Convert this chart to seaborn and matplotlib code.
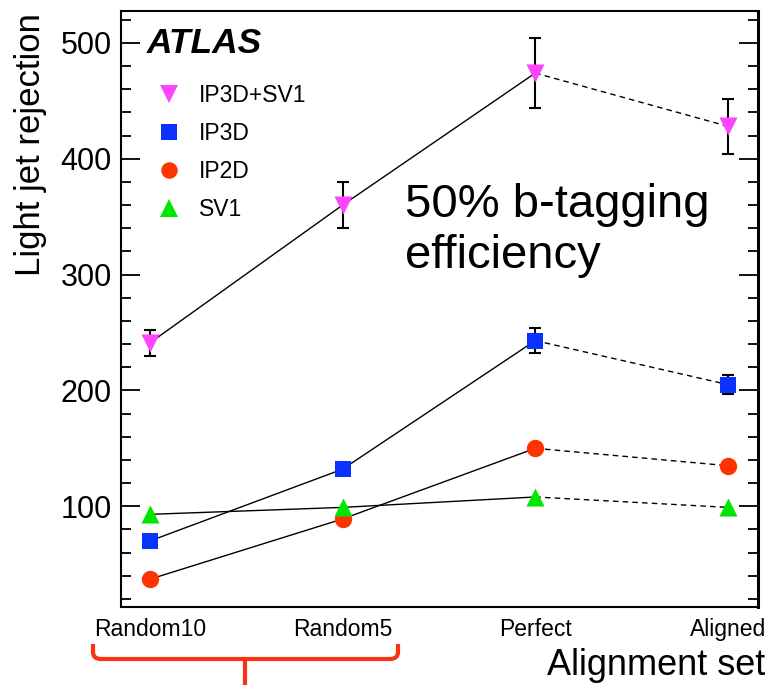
import numpy as np
import pandas as pd
import matplotlib
matplotlib.use("Agg")
import matplotlib.pyplot as plt
from matplotlib.lines import Line2D
from matplotlib.path import Path
from matplotlib.patches import PathPatch
from matplotlib.ticker import MultipleLocator
import seaborn as sns

# Alignment sets on the x axis
alignment_sets = ["Random10", "Random5", "Perfect", "Aligned"]

# Light jet rejection at 50% b-tagging efficiency, per tagger
ip3d_sv1 = [241, 360, 474, 428]
ip3d_sv1_err = [11, 20, 30, 24]
ip3d = [70, 132, 243, 205]
ip3d_err = [0, 0, 11, 8]
ip2d = [37, 89, 150, 135]
sv1 = [93, 99, 108, 99]

taggers = ["IP3D+SV1", "IP3D", "IP2D", "SV1"]
values = {"IP3D+SV1": ip3d_sv1, "IP3D": ip3d, "IP2D": ip2d, "SV1": sv1}
errors = {"IP3D+SV1": ip3d_sv1_err, "IP3D": ip3d_err}
colors = {"IP3D+SV1": "#ff44ff", "IP3D": "#0a32ff", "IP2D": "#ff3300", "SV1": "#00e600"}
markers = {"IP3D+SV1": "v", "IP3D": "s", "IP2D": "o", "SV1": "^"}
msizes = {"IP3D+SV1": 13, "IP3D": 11.5, "IP2D": 12.5, "SV1": 13}

rows = []
for t in taggers:
    for i, s in enumerate(alignment_sets):
        rows.append({"tagger": t, "pos": i, "set": s, "value": values[t][i]})
df = pd.DataFrame(rows)

sns.set_theme(style="ticks")
plt.rcParams["font.family"] = ["Liberation Sans", "DejaVu Sans"]
plt.rcParams["text.color"] = "black"
plt.rcParams["axes.labelcolor"] = "black"
plt.rcParams["xtick.color"] = "black"
plt.rcParams["ytick.color"] = "black"

fig = plt.figure(figsize=(7.7, 6.85), dpi=100)
ax = fig.add_axes([121 / 770, 1 - 607 / 685, 637 / 770, 596.5 / 685])

# Connecting lines: solid through the misaligned sets, dashed to the aligned one
solid = df[df["pos"] <= 2]
dashed = df[df["pos"] >= 2]
sns.lineplot(data=solid, x="pos", y="value", units="tagger", estimator=None,
             color="black", lw=1.0, ax=ax, zorder=2, legend=False)
sns.lineplot(data=dashed, x="pos", y="value", units="tagger", estimator=None,
             color="black", lw=1.0, ax=ax, zorder=2, legend=False,
             dashes=False, linestyle=(0, (4, 3)))

# Statistical error bars
for t, err in errors.items():
    sub = df[df["tagger"] == t]
    ax.errorbar(sub["pos"], sub["value"], yerr=err, fmt="none", ecolor="black",
                elinewidth=1.5, capsize=4, capthick=1.5, zorder=3)

# Markers
for t in taggers:
    sub = df[df["tagger"] == t]
    sns.scatterplot(data=sub, x="pos", y="value", marker=markers[t],
                    color=colors[t], s=msizes[t] ** 2, linewidth=0,
                    ax=ax, zorder=4, legend=False)

ax.set_xlim(-0.15, 3.156)
ax.set_ylim(13, 528)
ax.set_xticks(range(len(alignment_sets)))
ax.set_xticklabels(alignment_sets, fontsize=16.5)
ax.set_xlabel("")
ax.set_ylabel("Light jet rejection", fontsize=25)
ax.yaxis.set_label_coords(-0.116, 0.7745)

ax.yaxis.set_major_locator(MultipleLocator(100))
ax.yaxis.set_minor_locator(MultipleLocator(20))
ax.tick_params(axis="y", which="major", direction="in", length=14, width=1.3,
               labelsize=22, pad=6.5, right=True, left=True)
ax.tick_params(axis="y", which="minor", direction="in", length=7.5, width=1.3,
               right=True, left=True)
ax.tick_params(axis="x", which="both", length=0, pad=8)
for sp in ax.spines.values():
    sp.set_visible(True)
    sp.set_linewidth(1.5)
    sp.set_color("black")
ax.spines["right"].set_linewidth(2.2)

# Legend
handles = [Line2D([], [], linestyle="none", marker=markers[t], color=colors[t],
                  markersize=msizes[t] * 0.95, markeredgewidth=0) for t in taggers]
ax.legend(handles, taggers, loc="upper left", bbox_to_anchor=(0.058, 0.877),
          frameon=False, fontsize=16.5, handlelength=1.0, handletextpad=0.8,
          labelspacing=0.65, borderpad=0, borderaxespad=0)

ax.text(147 / 770, 1 - 53 / 685, "ATLAS", transform=fig.transFigure,
        fontsize=25.5, fontweight="bold", fontstyle="italic", va="baseline")

ax.text(405 / 770, 1 - 217 / 685, "50% b-tagging", transform=fig.transFigure,
        fontsize=34, va="baseline")
ax.text(405 / 770, 1 - 268 / 685, "efficiency", transform=fig.transFigure,
        fontsize=34, va="baseline")

fig.text(765 / 770, 1 - 675 / 685, "Alignment set", fontsize=26,
         ha="right", va="baseline")

# Red brace grouping the misaligned sets
W, H = 770, 685
def fp(x, y):
    return (x / W, 1 - y / H)
verts = [fp(93, 644), fp(93, 652), fp(93, 659), fp(101, 659), fp(390, 659),
         fp(398, 659), fp(398, 652), fp(398, 644)]
codes = [Path.MOVETO, Path.LINETO, Path.CURVE3, Path.CURVE3, Path.LINETO,
         Path.CURVE3, Path.CURVE3, Path.LINETO]
fig.add_artist(PathPatch(Path(verts, codes), transform=fig.transFigure,
                         fill=False, edgecolor="#fa3214", lw=3, capstyle="butt"))
fig.add_artist(Line2D([245 / W, 245 / W], [1 - 659 / H, 1 - 690 / H],
                      transform=fig.transFigure, color="#fa3214", lw=3))

fig.savefig("out.png", dpi=100)
